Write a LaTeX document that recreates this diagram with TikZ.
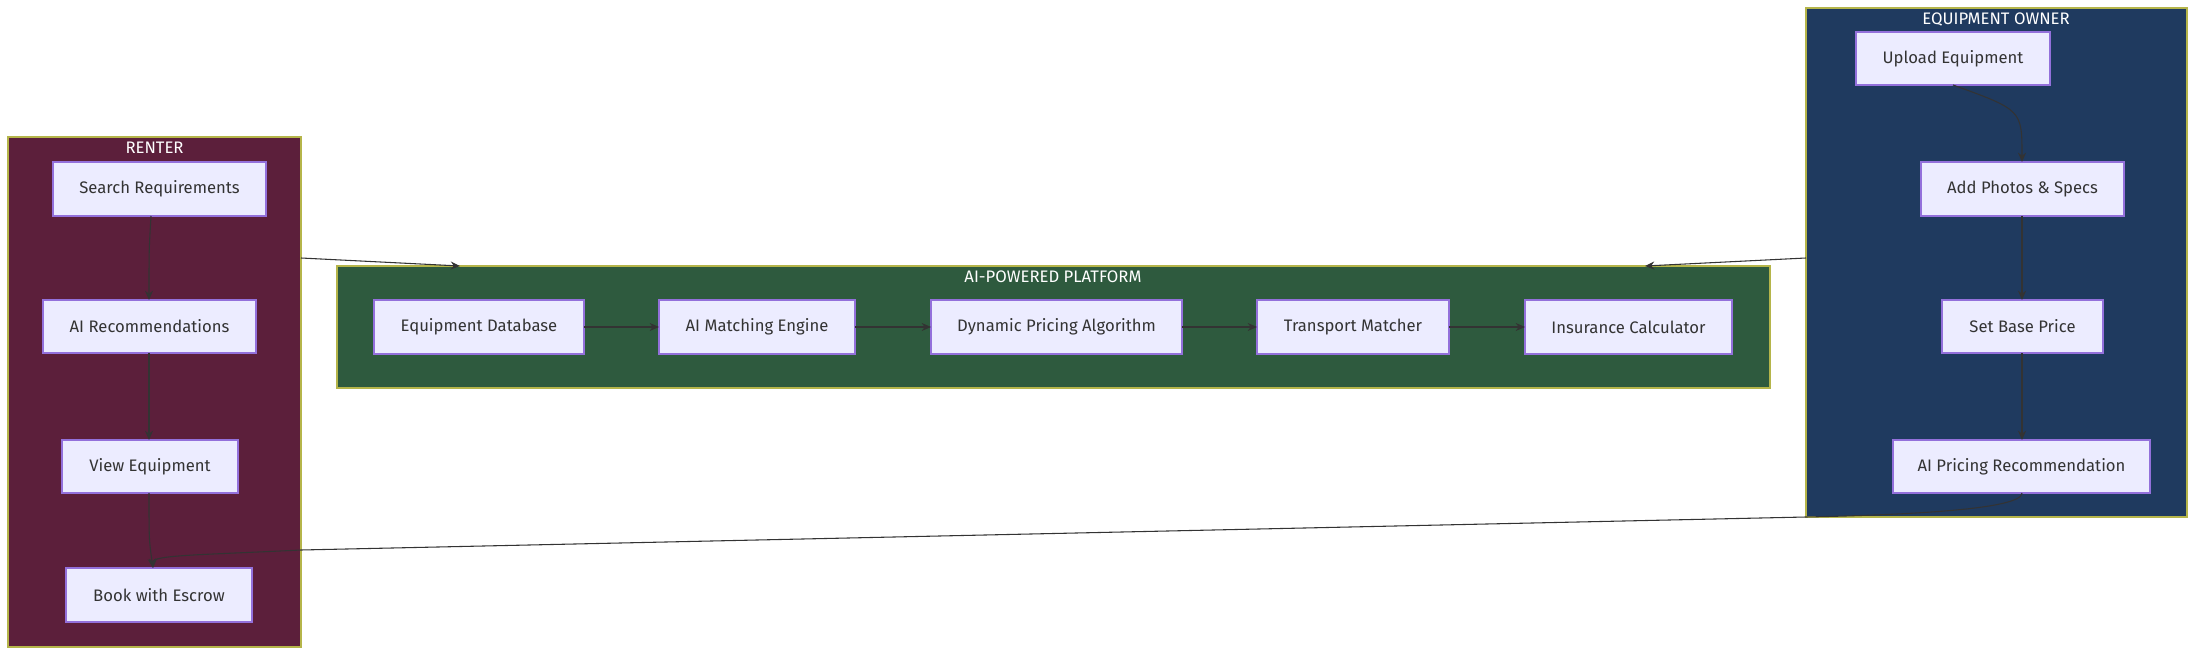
\documentclass[tikz,border=0pt]{standalone}
\usepackage{fontspec}
\setmainfont{Fira Sans}
\usetikzlibrary{arrows.meta}
\definecolor{renter}{HTML}{5C1F3B}
\definecolor{plat}{HTML}{2E5A3E}
\definecolor{owner}{HTML}{1F3A5F}
\definecolor{frameb}{HTML}{B5B54A}
\definecolor{nodef}{HTML}{ECECFF}
\definecolor{nodeb}{HTML}{9370DB}
\definecolor{ink}{HTML}{333333}
\begin{document}
\begin{tikzpicture}[x=0.75pt,y=-0.75pt,
  frame/.style={draw=frameb,line width=0.8pt},
  title/.style={text=white,font=\fontsize{12.5}{14}\selectfont,inner sep=0pt},
  box/.style={draw=nodeb,fill=nodef,line width=0.8pt,text=ink,font=\fontsize{12.5}{14}\selectfont},
  arr/.style={draw=ink,line width=0.8pt,-{Stealth[length=7pt,width=6pt]}}]
\useasboundingbox (0,0) rectangle (2196,656);
% frames
\draw[frame,fill=renter] (8,137) rectangle (301,647);
\node[title] (tR) at (154.5,148) {RENTER};
\draw[frame,fill=plat] (337,266) rectangle (1770,388);
\node[title] (tP) at (1053,277) {AI-POWERED PLATFORM};
\draw[frame,fill=owner] (1806,8) rectangle (2187,517);
\node[title] (tO) at (1996,20) {EQUIPMENT OWNER};
\coordinate (rR) at (301,258);
\coordinate (oL) at (1806,258);
% renter nodes
\path[box] (53,162) rectangle (266,216); \node[text=ink,font=\fontsize{12.5}{14}\selectfont] (r1) at (159.5,189) {Search Requirements};
\path[box] (43,300) rectangle (256,353); \node[text=ink,font=\fontsize{12.5}{14}\selectfont] (r2) at (149.5,326.5) {AI Recommendations};
\path[box] (62,440) rectangle (238,493); \node[text=ink,font=\fontsize{12.5}{14}\selectfont] (r3) at (150,466.5) {View Equipment};
\path[box] (66,568) rectangle (252,622); \node[text=ink,font=\fontsize{12.5}{14}\selectfont] (r4) at (159,595) {Book with Escrow};
\coordinate (r1b) at (151,216); \coordinate (r2t) at (149,300);
\coordinate (r2b) at (149,353); \coordinate (r3t) at (149,440);
\coordinate (r3b) at (149,493); \coordinate (r4t) at (153,568);
\draw[arr] (r1b) .. controls (149,250) .. (r2t);
\draw[arr] (r2b) -- (r3t);
\draw[arr] (r3b) .. controls (149,540) .. (r4t);
% platform nodes
\path[box] (374,300) rectangle (584,354); \coordinate (p1e) at (584,327);
\node[text=ink,font=\fontsize{12.5}{14}\selectfont] (p1) at (479,327) {Equipment Database};
\path[box] (659,300) rectangle (855,354);
\node[text=ink,font=\fontsize{12.5}{14}\selectfont] (p2) at (757,327) {AI Matching Engine};
\path[box] (931,300) rectangle (1182,354);
\node[text=ink,font=\fontsize{12.5}{14}\selectfont] (p3) at (1056.5,327) {Dynamic Pricing Algorithm};
\path[box] (1257,300) rectangle (1449,354);
\node[text=ink,font=\fontsize{12.5}{14}\selectfont] (p4) at (1353,327) {Transport Matcher};
\path[box] (1525,300) rectangle (1732,354);
\node[text=ink,font=\fontsize{12.5}{14}\selectfont] (p5) at (1628.5,327) {Insurance Calculator};
\coordinate (a1) at (584,327); \coordinate (b1) at (659,327);
\coordinate (a2) at (855,327); \coordinate (b2) at (931,327);
\coordinate (a3) at (1182,327); \coordinate (b3) at (1257,327);
\coordinate (a4) at (1449,327); \coordinate (b4) at (1525,327);
\draw[arr] (a1) -- (b1); \draw[arr] (a2) -- (b2);
\draw[arr] (a3) -- (b3); \draw[arr] (a4) -- (b4);
% owner nodes
\path[box] (1856,32) rectangle (2050,85);
\node[text=ink,font=\fontsize{12.5}{14}\selectfont] (o1) at (1953,58.5) {Upload Equipment};
\path[box] (1921,162) rectangle (2124,216);
\node[text=ink,font=\fontsize{12.5}{14}\selectfont] (o2) at (2022.5,189) {Add Photos \& Specs};
\path[box] (1942,300) rectangle (2103,353);
\node[text=ink,font=\fontsize{12.5}{14}\selectfont] (o3) at (2022.5,326.5) {Set Base Price};
\path[box] (1893,440) rectangle (2150,493);
\node[text=ink,font=\fontsize{12.5}{14}\selectfont] (o4) at (2021.5,466.5) {AI Pricing Recommendation};
\coordinate (o1b) at (1953,85); \coordinate (o2t) at (2022,162);
\coordinate (o2b) at (2022,216); \coordinate (o3t) at (2022,300);
\coordinate (o3b) at (2022,353); \coordinate (o4t) at (2022,440);
\coordinate (o4b) at (2022,493);
\draw[arr] (o1b) .. controls (2022,110) .. (o2t);
\draw[arr] (o2b) -- (o3t);
\draw[arr] (o3b) -- (o4t);
% cross edges
\coordinate (pA) at (460,266); \coordinate (pB) at (1645,266);
\draw[arr] (rR) -- (pA);
\draw[arr] (oL) -- (pB);
\coordinate (m1) at (1806,517); \coordinate (m2) at (301,550);
\draw[arr] (o4b) .. controls (2022,510) and (1900,515) .. (m1) -- (m2) .. controls (200,555) and (153,555) .. (r4t);
\end{tikzpicture}
\end{document}
